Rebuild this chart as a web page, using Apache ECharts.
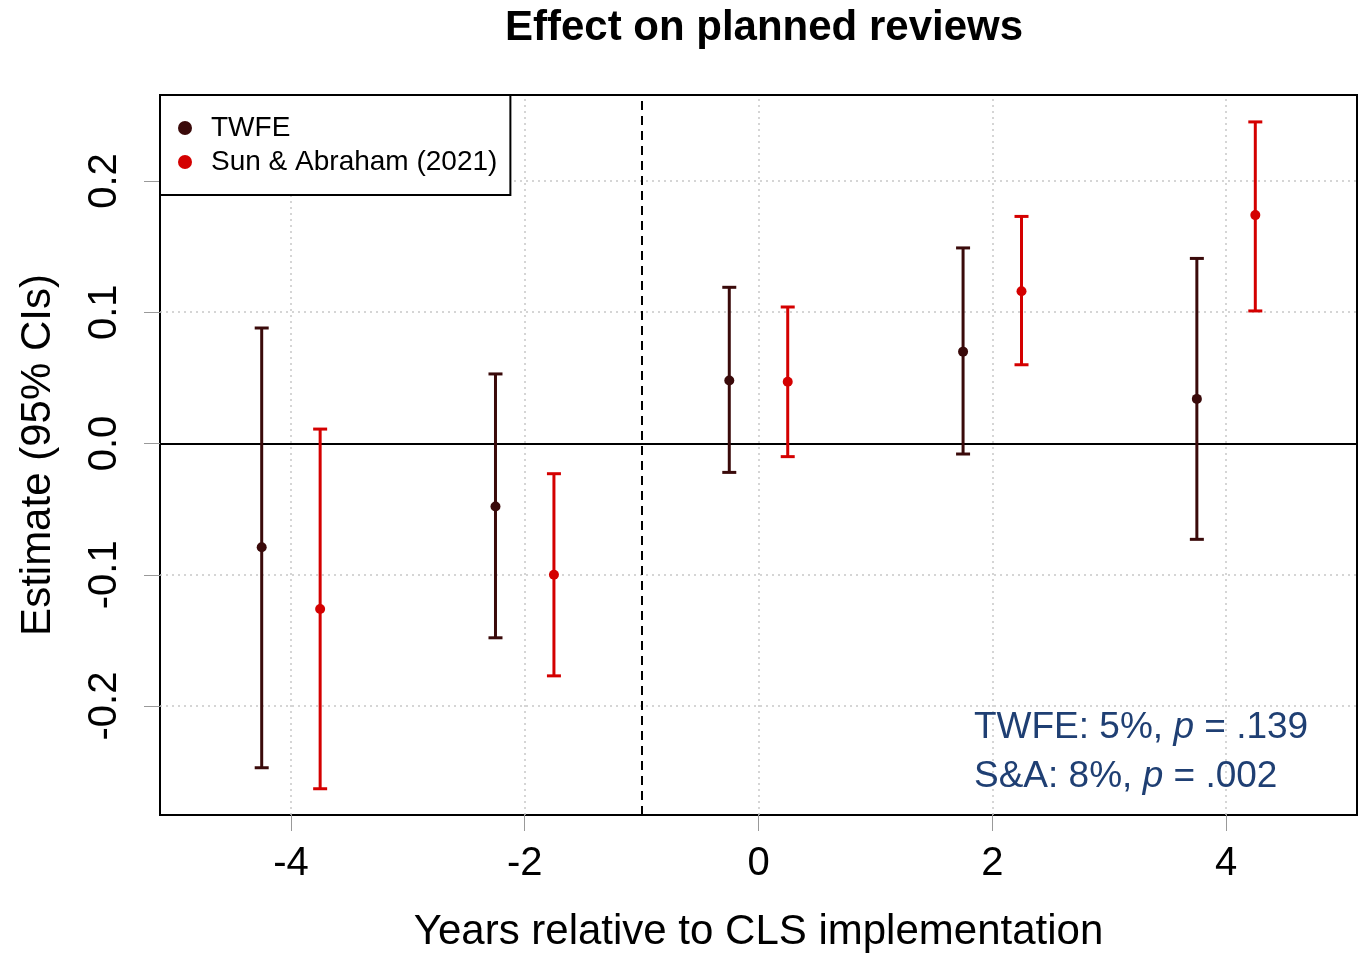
<!DOCTYPE html>
<html><head><meta charset="utf-8">
<script src="https://cdn.jsdelivr.net/npm/echarts@6/dist/echarts.min.js"></script>
<style>html,body{margin:0;padding:0;background:#fff}#c{width:1365px;height:954px}</style>
</head><body><div id="c"></div>
<script>
const seriesNames = ['TWFE', 'Sun & Abraham (2021)'];
const seriesColors = ['#3a0a0a', '#d40000'];
// [x position, estimate, lower CI, upper CI]
const twfe = [
  [-4.25, -0.079, -0.247, 0.088],
  [-2.25, -0.048, -0.148, 0.053],
  [-0.25, 0.048, -0.022, 0.119],
  [1.75, 0.070, -0.008, 0.149],
  [3.75, 0.034, -0.073, 0.141]
];
const sunAbraham = [
  [-3.75, -0.126, -0.263, 0.011],
  [-1.75, -0.100, -0.177, -0.023],
  [0.25, 0.047, -0.010, 0.104],
  [2.25, 0.116, 0.060, 0.173],
  [4.25, 0.174, 0.101, 0.245]
];
const xTicks = [-4, -2, 0, 2, 4];
const yTicks = [-0.2, -0.1, 0.0, 0.1, 0.2];
const treatmentLine = -1;
const xRange = [-5.12, 5.12];
const yRange = [-0.283, 0.2655];

const chart = echarts.init(document.getElementById('c'));
const FONT = 'Liberation Sans, Arial, sans-serif';

function errBar(color) {
  return function (params, api) {
    const x = api.value(0), est = api.value(1);
    const a = api.value(2), b = api.value(3);
    const pe = api.coord([x, est]);
    const pa = api.coord([x, a]);
    const pb = api.coord([x, b]);
    const cap = 7;
    const st = { stroke: color, lineWidth: 3 };
    return {
      type: 'group',
      children: [
        { type: 'line', shape: { x1: pa[0], y1: pa[1], x2: pb[0], y2: pb[1] }, style: st },
        { type: 'line', shape: { x1: pa[0] - cap, y1: pa[1], x2: pa[0] + cap, y2: pa[1] }, style: st },
        { type: 'line', shape: { x1: pb[0] - cap, y1: pb[1], x2: pb[0] + cap, y2: pb[1] }, style: st },
        { type: 'circle', shape: { cx: pe[0], cy: pe[1], r: 5 }, style: { fill: color } }
      ]
    };
  };
}

const gridLineStyle = { color: '#c8c8c8', type: [2, 4], width: 1.5 };

chart.setOption({
  animation: false,
  color: seriesColors,
  title: {
    text: 'Effect on planned reviews',
    left: 759, top: 2, textAlign: 'center',
    textStyle: { fontFamily: FONT, fontWeight: 'bold', fontSize: 42, color: '#000' }
  },
  grid: {
    left: 160, top: 95, right: 8, bottom: 139,
    outerBoundsMode: 'none', containLabel: false,
    show: true, borderColor: '#000', borderWidth: 2, backgroundColor: 'transparent'
  },
  legend: {
    orient: 'vertical', left: 160, top: 95,
    backgroundColor: '#fff', borderColor: '#000', borderWidth: 2,
    padding: [19, 13, 19, 18],
    itemWidth: 14, itemHeight: 14, itemGap: 6,
    data: seriesNames.map(n => ({ name: n, icon: 'circle' })),
    textStyle: { fontFamily: FONT, fontSize: 28, color: '#000', padding: [0, 0, 0, 14] },
    z: 10
  },
  xAxis: {
    type: 'value', min: xRange[0], max: xRange[1],
    name: 'Years relative to CLS implementation',
    nameLocation: 'middle', nameGap: 96,
    nameTextStyle: { fontFamily: FONT, fontSize: 42, color: '#000' },
    axisLine: { show: false, onZero: false },
    axisTick: { show: true, customValues: xTicks, length: 16, lineStyle: { color: '#999', width: 1 } },
    axisLabel: { customValues: xTicks, fontFamily: FONT, fontSize: 40, color: '#000', margin: 29 },
    splitLine: { show: false }
  },
  yAxis: {
    type: 'value', min: yRange[0], max: yRange[1],
    name: 'Estimate (95% CIs)',
    nameLocation: 'middle', nameGap: 101,
    nameTextStyle: { fontFamily: FONT, fontSize: 42, color: '#000' },
    axisLine: { show: false, onZero: false },
    axisTick: { show: true, customValues: yTicks, length: 16, lineStyle: { color: '#999', width: 1 } },
    axisLabel: {
      customValues: yTicks, rotate: 90, fontFamily: FONT, fontSize: 40, color: '#000', margin: 35,
      formatter: v => v.toFixed(1)
    },
    splitLine: { show: false }
  },
  series: [
    {
      name: 'gridlines', type: 'line', data: [], silent: true,
      markLine: {
        silent: true, symbol: 'none', label: { show: false },
        lineStyle: gridLineStyle,
        data: xTicks.map(v => ({ xAxis: v })).concat(yTicks.filter(v => v !== 0).map(v => ({ yAxis: v })))
      }
    },
    {
      name: 'refs', type: 'line', data: [], silent: true, z: 3,
      markLine: {
        silent: true, symbol: 'none', label: { show: false },
        data: [
          { yAxis: 0, lineStyle: { color: '#000', type: 'solid', width: 2 } },
          { xAxis: treatmentLine, lineStyle: { color: '#000', type: [9, 6], width: 2 } }
        ]
      }
    },
    {
      name: seriesNames[0], type: 'custom', z: 5,
      renderItem: errBar(seriesColors[0]),
      encode: { x: 0, y: [1, 2, 3] },
      data: twfe
    },
    {
      name: seriesNames[1], type: 'custom', z: 5,
      renderItem: errBar(seriesColors[1]),
      encode: { x: 0, y: [1, 2, 3] },
      data: sunAbraham
    }
  ],
  graphic: [
    {
      type: 'text', left: 974, top: 703, z: 20,
      style: {
        rich: {
          n: { fontFamily: FONT, fontSize: 37, fill: '#1f3f73' },
          i: { fontFamily: FONT, fontSize: 37, fontStyle: 'italic', fill: '#1f3f73' }
        },
        text: '{n|TWFE: 5%, }{i|p}{n| = .139}\n{n|S&A: 8%, }{i|p}{n| = .002}',
        lineHeight: 49
      }
    }
  ]
});
</script>
</body></html>
